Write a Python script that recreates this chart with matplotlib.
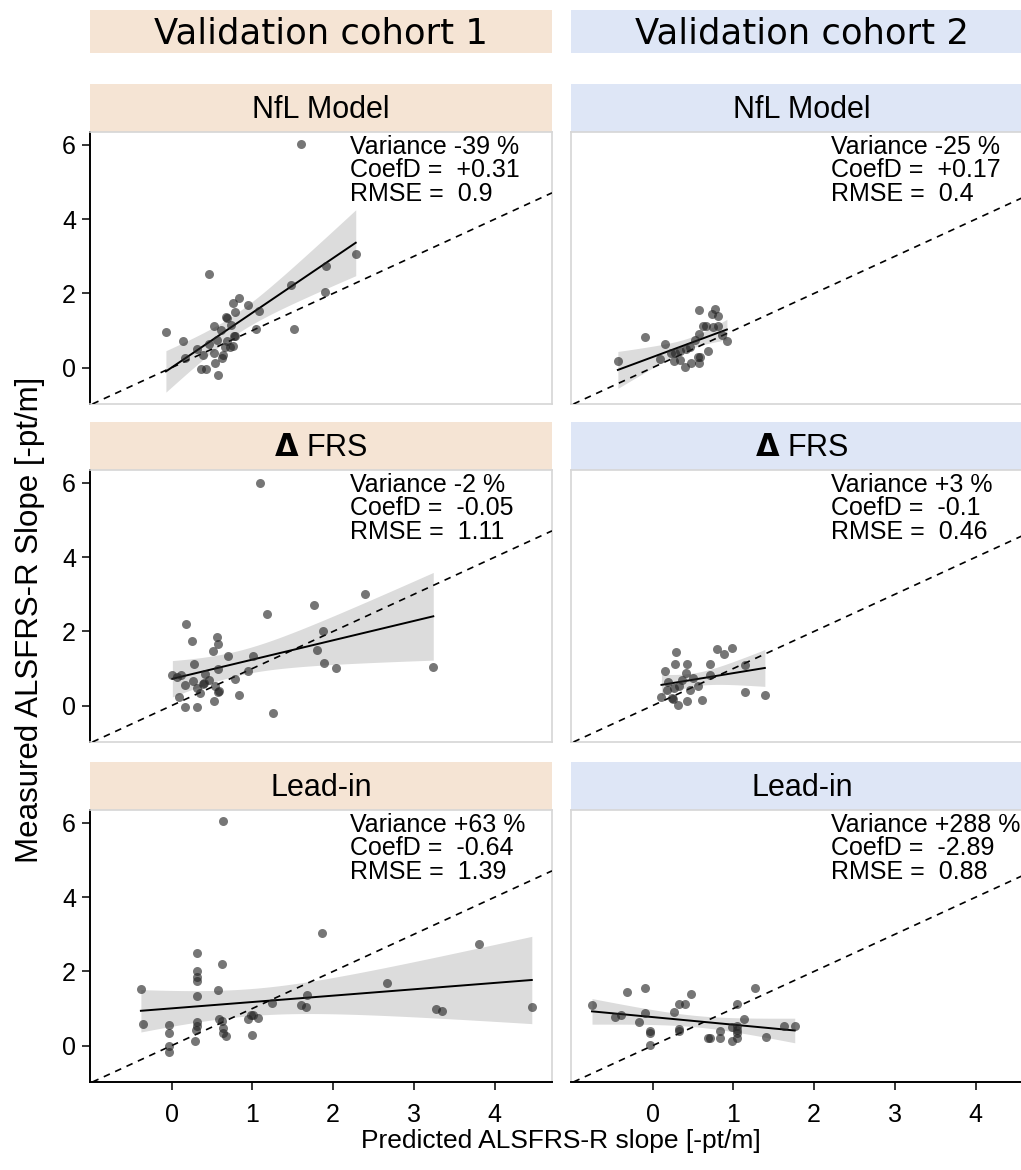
import numpy as np
import matplotlib.pyplot as plt

# ---- data ---------------------------------------------------------------
cohorts = ["Validation cohort 1", "Validation cohort 2"]
models = ["NfL Model", r"$\mathbf{\Delta}$ FRS", "Lead-in"]

nfl_c1_x = [1.60, 2.28, 1.91, 1.90, 1.48, 1.52, 0.46, -0.07, 0.14, 0.17, 0.84, 0.76, 0.95,
            0.79, 0.67, 0.68, 1.08, 1.05, 0.52, 0.73, 0.61, 0.78, 0.77, 0.56, 0.46, 0.69,
            0.66, 0.76, 0.72, 0.31, 0.39, 0.52, 0.64, 0.62, 0.54, 0.36, 0.42, 0.58]
nfl_c1_y = [6.02, 3.05, 2.75, 2.03, 2.22, 1.04, 2.53, 0.95, 0.72, 0.25, 1.87, 1.75, 1.69,
            1.50, 1.37, 1.35, 1.53, 1.03, 1.12, 1.15, 1.01, 0.85, 0.85, 0.75, 0.65, 0.71,
            0.55, 0.59, 0.56, 0.49, 0.33, 0.40, 0.35, 0.27, 0.13, -0.05, -0.05, -0.20]

nfl_c2_x = [-0.43, -0.10, 0.15, 0.09, 0.23, 0.28, 0.34, 0.41, 0.27, 0.34, 0.40, 0.48, 0.56,
            0.59, 0.57, 0.52, 0.58, 0.57, 0.77, 0.73, 0.81, 0.63, 0.66, 0.75, 0.81, 0.86,
            0.92, 0.69, 0.46]
nfl_c2_y = [0.19, 0.83, 0.65, 0.24, 0.39, 0.39, 0.46, 0.51, 0.17, 0.20, 0.01, 0.13, 0.28,
            0.28, 0.13, 0.74, 0.90, 1.55, 1.57, 1.45, 1.40, 1.12, 1.12, 1.10, 1.13, 0.87,
            0.71, 0.44, 0.55]

frs_c1_x = [1.09, 3.24, 2.40, 1.76, 1.18, 1.88, 1.80, 1.89, 2.03, 1.01, 0.95, 1.26, 0.18,
            0.25, 0.56, 0.57, 0.51, 0.70, 0.28, 0.57, 0.01, 0.07, 0.12, 0.41, 0.17, 0.26,
            0.31, 0.39, 0.40, 0.46, 0.35, 0.54, 0.58, 0.59, 0.79, 0.84, 0.09, 0.16, 0.31, 0.52]
frs_c1_y = [6.01, 1.03, 3.02, 2.71, 2.48, 2.00, 1.51, 1.14, 1.02, 1.33, 0.94, -0.19, 2.19,
            1.73, 1.85, 1.66, 1.48, 1.35, 1.11, 0.99, 0.83, 0.77, 0.83, 0.86, 0.56, 0.66,
            0.47, 0.59, 0.61, 0.70, 0.34, 0.52, 0.37, 0.40, 0.71, 0.28, 0.23, -0.03, -0.03, 0.13]

frs_c2_x = [1.39, 1.14, 1.14, 0.98, 0.80, 0.88, 0.71, 0.71, 0.29, 0.28, 0.43, 0.15, 0.41,
            0.19, 0.37, 0.50, 0.56, 0.26, 0.18, 0.33, 0.46, 0.11, 0.24, 0.25, 0.31, 0.43, 0.61]
frs_c2_y = [0.28, 0.38, 1.10, 1.55, 1.53, 1.39, 1.13, 0.83, 1.44, 1.13, 1.12, 0.92, 0.88,
            0.65, 0.70, 0.75, 0.52, 0.47, 0.43, 0.52, 0.43, 0.23, 0.21, 0.19, 0.01, 0.12, 0.16]

lead_c1_x = [0.64, 1.86, 3.80, 2.67, 4.46, 3.27, 3.35, 1.68, 1.60, 1.66, 1.24, 0.98, 1.01,
             0.95, 1.07, 0.99, -0.38, -0.35, -0.03, -0.03, -0.03, -0.03, 0.31, 0.31, 0.31,
             0.31, 0.31, 0.31, 0.31, 0.30, 0.29, 0.62, 0.58, 0.59, 0.62, 0.64, 0.64, 0.67]
lead_c1_y = [6.05, 3.03, 2.73, 1.68, 1.03, 1.00, 0.94, 1.36, 1.10, 1.03, 1.14, 0.83, 0.82,
             0.72, 0.75, 0.29, 1.53, 0.57, 0.56, 0.34, -0.02, -0.18, 2.50, 2.01, 1.86,
             1.73, 1.35, 0.63, 0.52, 0.42, 0.13, 2.20, 1.49, 0.72, 0.66, 0.47, 0.35, 0.25]

lead_c2_x = [-0.75, -0.47, -0.39, -0.32, -0.10, -0.17, -0.10, -0.03, -0.03, -0.03, 0.26,
             0.33, 0.40, 0.48, 0.33, 0.33, 0.69, 0.71, 0.84, 0.84, 0.98, 0.98, 1.05, 1.05,
             1.05, 1.05, 1.05, 1.13, 1.27, 1.41, 1.63, 1.76]
lead_c2_y = [1.09, 0.76, 0.82, 1.44, 1.56, 0.64, 0.88, 0.39, 0.33, 0.02, 0.91, 1.12, 1.12,
             1.40, 0.45, 0.40, 0.20, 0.20, 0.40, 0.20, 0.49, 0.13, 0.53, 0.43, 0.33, 0.20,
             1.12, 0.71, 1.54, 0.22, 0.52, 0.54]

variance = [["-39 %", "-25 %"], ["-2 %", "+3 %"], ["+63 %", "+288 %"]]
coefd = [["+0.31", "+0.17"], ["-0.05", "-0.1"], ["-0.64", "-2.89"]]
rmse = [["0.9", "0.4"], ["1.11", "0.46"], ["1.39", "0.88"]]

panels = [[(nfl_c1_x, nfl_c1_y), (nfl_c2_x, nfl_c2_y)],
          [(frs_c1_x, frs_c1_y), (frs_c2_x, frs_c2_y)],
          [(lead_c1_x, lead_c1_y), (lead_c2_x, lead_c2_y)]]

# ---- layout (pixels) ------------------------------------------------------
W, H = 1021, 1170
col_x = [90, 571]
col_w = 462
strip_top = [84, 422, 762]
strip_h = 48
panel_h = 272
strip_cols = ["#F5E4D4", "#DEE6F6"]
frame_grey = "#d6d6d6"


def rect(x0, y0, w, h):
    return [x0 / W, 1 - (y0 + h) / H, w / W, h / H]


def fit_band(x, y):
    x = np.asarray(x)
    y = np.asarray(y)
    n = len(x)
    b, a = np.polyfit(x, y, 1)
    xs = np.linspace(x.min(), x.max(), 100)
    resid = y - (a + b * x)
    s = np.sqrt(np.sum(resid ** 2) / (n - 2))
    sxx = np.sum((x - x.mean()) ** 2)
    se = s * np.sqrt(1 / n + (xs - x.mean()) ** 2 / sxx)
    t = 2.03
    fit = a + b * xs
    return xs, fit, fit - t * se, fit + t * se


fig = plt.figure(figsize=(W / 100, H / 100), dpi=100)

# column headers
for c in range(2):
    hax = fig.add_axes(rect(col_x[c], 10, col_w, 43))
    hax.set_facecolor(strip_cols[c])
    hax.set_xticks([])
    hax.set_yticks([])
    for sp in hax.spines.values():
        sp.set_visible(False)
    hax.text(0.5, 0.45, cohorts[c], ha="center", va="center",
             fontsize=25.5, family="DejaVu Sans", transform=hax.transAxes)

for r in range(3):
    for c in range(2):
        # facet strip
        sax = fig.add_axes(rect(col_x[c], strip_top[r], col_w, strip_h))
        sax.set_facecolor(strip_cols[c])
        sax.set_xticks([])
        sax.set_yticks([])
        for sp in sax.spines.values():
            sp.set_visible(False)
        sax.text(0.5, 0.45, models[r], ha="center", va="center",
                 fontsize=22, family="Liberation Sans", transform=sax.transAxes)

        ax = fig.add_axes(rect(col_x[c], strip_top[r] + strip_h, col_w, panel_h))
        x, y = panels[r][c]
        xs, fit, lo, hi = fit_band(x, y)
        ax.fill_between(xs, lo, hi, color="#dcdcdc", lw=0, zorder=1)
        ax.plot(xs, fit, color="black", lw=1.4, zorder=2)
        ax.axline((0, 0), slope=1, color="black", lw=1.2, dashes=(4, 3.5), zorder=3)
        ax.scatter(x, y, s=42, color="#222222", alpha=0.62, lw=0, zorder=4)

        ax.set_xlim(-1.01, 4.71)
        ax.set_ylim(-0.98, 6.35)
        ax.set_xticks([0, 1, 2, 3, 4])
        ax.set_yticks([0, 2, 4, 6])

        for sp in ax.spines.values():
            sp.set_color(frame_grey)
            sp.set_linewidth(1.2)
        if c == 0:
            ax.spines["left"].set_color("black")
            ax.spines["left"].set_linewidth(1.4)
            ax.tick_params(axis="y", length=6, width=1.1, labelsize=18, pad=4)
            for lab in ax.get_yticklabels():
                lab.set_family("Liberation Sans")
        else:
            ax.tick_params(axis="y", left=False, labelleft=False)
        if r == 2:
            ax.spines["bottom"].set_color("black")
            ax.spines["bottom"].set_linewidth(1.4)
            ax.tick_params(axis="x", length=6, width=1.1, labelsize=18, pad=9)
            for lab in ax.get_xticklabels():
                lab.set_family("Liberation Sans")
        else:
            ax.tick_params(axis="x", bottom=False, labelbottom=False)

        ax.text(0.563, 0.99,
                "Variance " + variance[r][c] + "\nCoefD =  " + coefd[r][c]
                + "\nRMSE =  " + rmse[r][c],
                transform=ax.transAxes, ha="left", va="top", fontsize=18,
                linespacing=0.97, family="Liberation Sans", zorder=5)

fig.text(561 / W, 1 - 1141 / H, "Predicted ALSFRS-R slope [-pt/m]", ha="center",
         va="center", fontsize=19, family="Liberation Sans")
fig.text(30 / W, 1 - 620 / H, "Measured ALSFRS-R Slope [-pt/m]", ha="center",
         va="center", rotation=90, fontsize=22.5, family="Liberation Sans")

fig.savefig("out.png", dpi=100)
